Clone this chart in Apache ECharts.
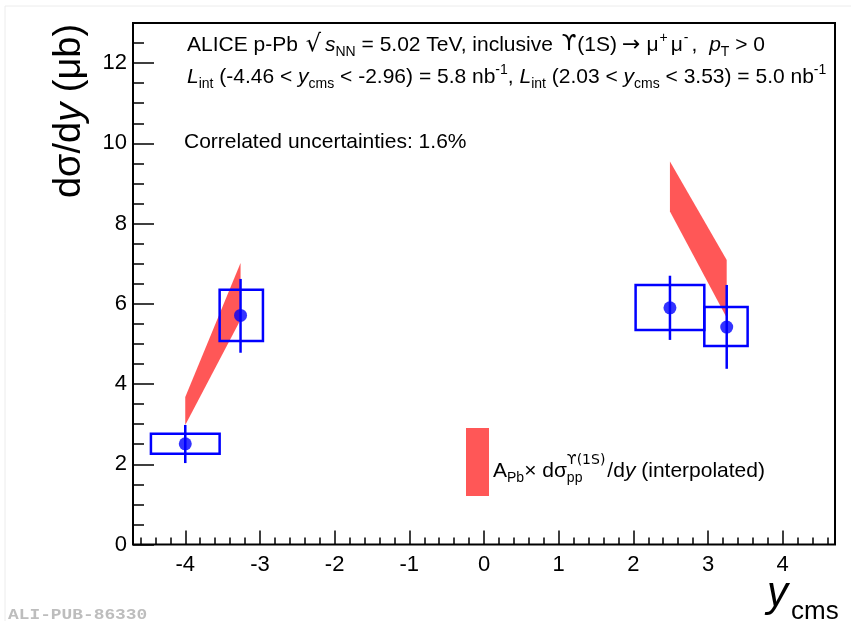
<!DOCTYPE html>
<html>
<head>
<meta charset="utf-8">
<script src="https://cdn.jsdelivr.net/npm/echarts@6/dist/echarts.min.js"></script>
<style>
    html, body { margin: 0; padding: 0; background: #fff; }
    #chart { width: 851px; height: 621px; }
</style>
</head>
<body>
<div id="chart"></div>
<script>
// measured points: x (rapidity), y (dsigma/dy in mub)
var ptX = [-4.00, -3.26, 2.49, 3.25];
var ptY = [2.51, 5.71, 5.90, 5.42];
// stat errors (vertical bars)
var statLo = [2.03, 4.78, 5.10, 4.38];
var statHi = [2.98, 6.62, 6.70, 6.47];
// systematic boxes
var boxXLo = [-4.46, -3.54, 2.03, 2.95];
var boxXHi = [-3.54, -2.96, 2.95, 3.53];
var sysLo = [2.26, 5.07, 5.35, 4.95];
var sysHi = [2.76, 6.35, 6.47, 5.92];
// interpolated pp reference band (start edge / end edge)
var bandX0 = [-4.00, 2.49];
var bandLo0 = [2.98, 8.30];
var bandHi0 = [3.68, 9.55];
var bandX1 = [-3.26, 3.25];
var bandLo1 = [5.60, 5.65];
var bandHi1 = [7.02, 7.09];
// axes
var xTicks = [-4, -3, -2, -1, 0, 1, 2, 3, 4];
var yTicks = [0, 2, 4, 6, 8, 10, 12];

var xMinor = [];
for (var k = -23; k <= 23; k++) { if (k % 5 !== 0) xMinor.push(k / 5); }
var yMinor = [];
for (var k = 1; k <= 25; k++) { if (k % 4 !== 0) yMinor.push(k / 2); }

var FONT = 'Liberation Sans';
var BAND = '#ff5757';

var bandData = bandX0.map(function (x, i) {
    return [x, bandLo0[i], bandHi0[i], bandX1[i], bandLo1[i], bandHi1[i]];
});
var boxData = boxXLo.map(function (x, i) { return [x, boxXHi[i], sysLo[i], sysHi[i]]; });
var errData = ptX.map(function (x, i) { return [x, statLo[i], statHi[i]]; });
var ptData = ptX.map(function (x, i) { return [x, ptY[i]]; });

function renderBand(params, api) {
    var a = api.coord([api.value(0), api.value(1)]);
    var b = api.coord([api.value(0), api.value(2)]);
    var c = api.coord([api.value(3), api.value(5)]);
    var d = api.coord([api.value(3), api.value(4)]);
    return { type: 'polygon', shape: { points: [a, b, c, d] }, style: { fill: BAND } };
}
function renderBox(params, api) {
    var p0 = api.coord([api.value(0), api.value(3)]);
    var p1 = api.coord([api.value(1), api.value(2)]);
    return {
        type: 'rect',
        shape: { x: p0[0], y: p0[1], width: p1[0] - p0[0], height: p1[1] - p0[1] },
        style: { fill: 'none', stroke: '#0000ff', lineWidth: 2.5 }
    };
}
function renderErr(params, api) {
    var lo = api.coord([api.value(0), api.value(1)]);
    var hi = api.coord([api.value(0), api.value(2)]);
    return {
        type: 'line',
        shape: { x1: lo[0], y1: lo[1], x2: hi[0], y2: hi[1] },
        style: { stroke: '#0000ff', lineWidth: 2.5 }
    };
}

// text measuring, used to stack the legend's super/subscript
var mctx = document.createElement('canvas').getContext('2d');
function w(s, size, fam) { mctx.font = size + 'px "' + (fam || FONT) + '"'; return mctx.measureText(s).width; }
var legX = 493;
var supText = '\u03d2(1S)';
var supW = w(supText, 14, 'DejaVu Sans') + 2;
var supX = legX + w('A', 21) + w('Pb', 14) + w('\u00d7 d\u03c3', 21);

var chart = echarts.init(document.getElementById('chart'), null, { renderer: 'canvas' });

var tickStyle = { color: '#000', width: 1.5 };
var richBase = {
    i: { fontStyle: 'italic', fontSize: 21, fontFamily: FONT, lineHeight: 28 },
    sq: { fontSize: 24, fontFamily: 'DejaVu Sans', lineHeight: 28, padding: [0, 4, 0, 2] },
    ar: { fontSize: 22, fontFamily: 'DejaVu Sans', lineHeight: 28, padding: [0, 6, 0, 5] },
    ups: { fontSize: 21, fontFamily: 'DejaVu Sans', lineHeight: 28, padding: [0, 1, 0, 3] },
    sub: { fontSize: 14, fontFamily: FONT, lineHeight: 12, verticalAlign: 'bottom' },
    sup: { fontSize: 14, fontFamily: FONT, lineHeight: 12, verticalAlign: 'top' },
    supw: { fontSize: 14, fontFamily: FONT, lineHeight: 12, verticalAlign: 'top', padding: [0, 3, 0, 1] },
    subw: { fontSize: 14, fontFamily: FONT, lineHeight: 12, verticalAlign: 'bottom', width: supW },
    gap: { fontSize: 21, fontFamily: FONT, lineHeight: 28, padding: [0, 6, 0, 0] }
};
function txt(x, y, text, extra) {
    var st = {
        text: text, fontSize: 21, fontFamily: FONT, fill: '#000',
        lineHeight: 28, align: 'left', verticalAlign: 'middle', rich: richBase
    };
    for (var key in extra) st[key] = extra[key];
    return { type: 'text', x: x, y: y, style: st, z: 10 };
}

var option = {
    animation: false,
    backgroundColor: '#fff',
    grid: {
        left: 133, top: 23, width: 702, height: 521.5,
        show: true, borderColor: '#000', borderWidth: 2,
        containLabel: false, outerBoundsMode: 'none'
    },
    xAxis: [{
        type: 'value', min: -4.7, max: 4.7, position: 'bottom',
        axisLine: { show: false, onZero: false },
        splitLine: { show: false },
        axisTick: { show: true, inside: true, length: 14, customValues: xTicks, lineStyle: tickStyle },
        axisLabel: { customValues: xTicks, fontSize: 22, fontFamily: FONT, color: '#000', margin: 9 }
    }, {
        type: 'value', min: -4.7, max: 4.7, position: 'bottom',
        axisLine: { show: false, onZero: false }, splitLine: { show: false },
        axisTick: { show: true, inside: true, length: 7, customValues: xMinor, lineStyle: tickStyle },
        axisLabel: { show: false }
    }],
    yAxis: [{
        type: 'value', min: 0, max: 13, position: 'left',
        axisLine: { show: false, onZero: false },
        splitLine: { show: false },
        axisTick: { show: true, inside: true, length: 21, customValues: yTicks, lineStyle: tickStyle },
        axisLabel: { customValues: yTicks, fontSize: 22, fontFamily: FONT, color: '#000', margin: 6 }
    }, {
        type: 'value', min: 0, max: 13, position: 'left',
        axisLine: { show: false, onZero: false }, splitLine: { show: false },
        axisTick: { show: true, inside: true, length: 11, customValues: yMinor, lineStyle: tickStyle },
        axisLabel: { show: false }
    }],
    series: [
        { type: 'custom', renderItem: renderBand, data: bandData, silent: true, z: 2 },
        { type: 'custom', renderItem: renderBox, data: boxData, silent: true, z: 3 },
        { type: 'custom', renderItem: renderErr, data: errData, silent: true, z: 3 },
        {
            type: 'scatter', data: ptData, symbol: 'circle', symbolSize: 13, z: 4,
            itemStyle: { color: '#0000ff' }, silent: true
        }
    ],
    graphic: [
        // faint frame of the original figure
        { type: 'line', shape: { x1: 5, y1: 6, x2: 851, y2: 6 }, style: { stroke: '#ececec', lineWidth: 1 } },
        { type: 'line', shape: { x1: 5, y1: 6, x2: 5, y2: 621 }, style: { stroke: '#ececec', lineWidth: 1 } },
        txt(187, 45, 'ALICE p-Pb {sq|\u221a}{i|s}{sub|NN} = 5.02 TeV, inclusive {ups|\u03d2}(1S){ar|\u2192}\u03bc{supw|+}\u03bc{supw|-}{gap|,} {i|p}{sub|T} > 0'),
        txt(187, 77, '{i|L}{sub|int} (-4.46 < {i|y}{sub|cms} < -2.96) = 5.8 nb{sup|-1}, {i|L}{sub|int} (2.03 < {i|y}{sub|cms} < 3.53) = 5.0 nb{sup|-1}'),
        txt(184, 142, 'Correlated uncertainties: 1.6%'),
        // legend
        { type: 'rect', shape: { x: 466, y: 428, width: 23, height: 68 }, style: { fill: BAND }, z: 10 },
        txt(legX, 471, 'A{sub|Pb}\u00d7 d\u03c3{subw|pp}/d{i|y} (interpolated)'),
        txt(supX, 460, supText, { fontSize: 14, fontFamily: 'DejaVu Sans' }),
        // axis titles
        {
            type: 'text', x: 70, y: 111, rotation: Math.PI / 2, z: 10,
            style: {
                text: 'd\u03c3/d{i|y} (\u03bcb)', fontSize: 38, fontFamily: FONT, fill: '#000',
                align: 'center', verticalAlign: 'middle',
                rich: { i: { fontSize: 38, fontFamily: FONT, fontStyle: 'italic' } }
            }
        },
        {
            type: 'text', x: 767, y: 594, z: 10,
            style: { text: 'y', fontSize: 42, fontStyle: 'italic', fontFamily: FONT, fill: '#000', align: 'left', verticalAlign: 'middle' }
        },
        {
            type: 'text', x: 791, y: 612, z: 10,
            style: { text: 'cms', fontSize: 26, fontFamily: FONT, fill: '#000', align: 'left', verticalAlign: 'middle' }
        },
        // publication tag
        {
            type: 'text', x: 8, y: 615, scaleX: 1.19, z: 10,
            style: { text: 'ALI-PUB-86330', fontSize: 15, fontWeight: 'bold', fontFamily: 'Liberation Mono', fill: '#bdbdbd', align: 'left', verticalAlign: 'middle' }
        }
    ]
};
chart.setOption(option);
</script>
</body>
</html>
